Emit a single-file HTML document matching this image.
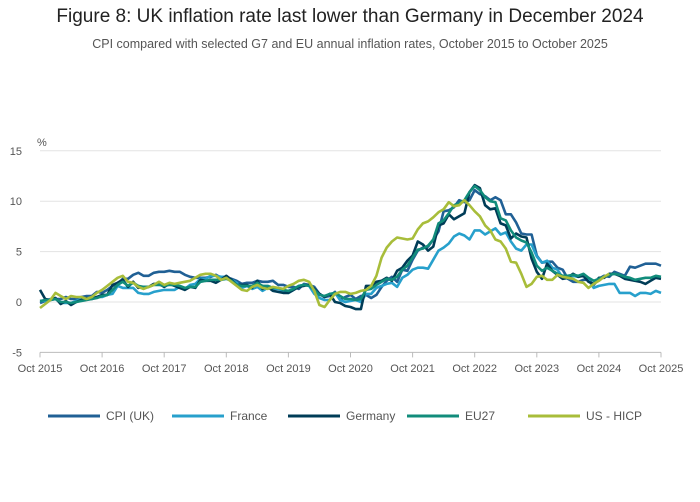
<!DOCTYPE html>
<html><head><meta charset="utf-8">
<style>
body{margin:0;background:#fff;font-family:"Liberation Sans",sans-serif;}
#wrap{position:relative;width:700px;height:502px;overflow:hidden;}
h1{position:absolute;top:6px;left:0;width:700px;text-align:center;margin:0;font-weight:normal;font-size:19px;color:#222;}
h2{position:absolute;top:37px;left:0;width:700px;text-align:center;margin:0;font-weight:normal;font-size:12.5px;color:#555;}
</style></head><body>
<div id="wrap">
<h1>Figure 8: UK inflation rate last lower than Germany in December 2024</h1>
<h2>CPI compared with selected G7 and EU annual inflation rates, October 2015 to October 2025</h2>
<svg id="chart" width="700" height="502" style="position:absolute;left:0;top:0"></svg>
</div>
<script>
const xTickLabels=["Oct 2015","Oct 2016","Oct 2017","Oct 2018","Oct 2019","Oct 2020","Oct 2021","Oct 2022","Oct 2023","Oct 2024","Oct 2025"];
const yTicks=[-5,0,5,10,15];
const seriesNames=["CPI (UK)","France","Germany","EU27","US - HICP"];
const ukValues=[-0.1,0.1,0.2,0.3,0.3,0.5,0.3,0.3,0.5,0.6,0.6,1.0,0.9,1.2,1.6,1.8,2.3,2.3,2.7,2.9,2.6,2.6,2.9,3.0,3.0,3.1,3.0,3.0,2.7,2.5,2.4,2.4,2.4,2.5,2.7,2.4,2.4,2.3,2.1,1.8,1.9,1.9,2.1,2.0,2.0,2.1,1.7,1.7,1.5,1.5,1.3,1.8,1.7,1.5,0.8,0.5,0.6,1.0,0.2,0.5,0.7,0.3,0.6,0.7,0.4,0.7,1.5,2.1,2.5,2.0,3.2,3.1,4.2,5.1,5.4,5.5,6.2,7.0,9.0,9.1,9.4,10.1,9.9,10.1,11.1,10.7,10.5,10.1,10.4,10.1,8.7,8.7,7.9,6.8,6.7,6.7,4.6,3.9,4.0,4.0,3.4,3.2,2.3,2.0,2.0,2.2,2.2,1.7,2.3,2.6,2.5,3.0,2.8,2.6,3.5,3.4,3.6,3.8,3.8,3.8,3.6];
const franceValues=[0.1,0.1,0.3,0.3,-0.1,-0.1,-0.1,0.1,0.3,0.4,0.4,0.5,0.5,0.7,0.8,1.6,1.4,1.4,1.4,0.9,0.8,0.8,1.0,1.1,1.2,1.2,1.2,1.5,1.3,1.7,1.8,2.3,2.3,2.6,2.6,2.5,2.5,2.2,1.9,1.4,1.6,1.3,1.5,1.1,1.4,1.3,1.3,1.1,0.9,1.2,1.6,1.7,1.6,0.8,0.4,0.2,0.2,0.9,0.2,0.0,0.1,0.2,0.0,0.8,0.8,1.4,1.6,1.8,1.9,1.5,2.4,2.7,3.2,3.4,3.4,3.3,4.2,5.1,5.4,5.8,6.5,6.8,6.6,6.2,7.1,7.1,6.7,7.0,7.3,6.7,6.9,6.0,5.3,5.1,5.7,5.7,4.5,3.9,4.1,3.4,3.2,2.4,2.4,2.6,2.5,2.7,2.2,1.4,1.6,1.7,1.8,1.8,0.9,0.9,0.9,0.6,0.9,0.9,0.8,1.1,0.9];
const germanyValues=[1.2,0.3,0.2,0.4,-0.2,0.1,-0.3,0.0,0.2,0.4,0.3,0.5,0.7,0.7,1.7,1.9,2.2,1.5,2.0,1.4,1.5,1.5,1.8,1.8,1.5,1.8,1.6,1.4,1.2,1.5,1.4,2.2,2.1,2.1,1.9,2.2,2.6,2.2,1.7,1.7,1.7,1.4,2.1,1.3,1.5,1.1,1.0,0.9,0.9,1.2,1.5,1.6,1.7,1.3,0.8,0.5,0.8,0.0,-0.1,-0.4,-0.5,-0.7,-0.7,1.6,1.6,2.0,2.1,2.4,2.1,3.1,3.4,4.1,4.6,6.0,5.7,5.1,5.5,7.6,7.8,8.7,8.2,8.5,8.8,10.9,11.6,11.3,9.6,9.2,9.3,7.8,7.6,6.3,6.8,6.5,6.4,4.3,3.0,2.3,3.8,3.1,2.7,2.3,2.4,2.8,2.5,2.6,2.0,1.8,2.4,2.4,2.8,2.8,2.6,2.3,2.2,2.1,2.0,1.8,2.1,2.4,2.3];
const eu27Values=[0.1,0.2,0.2,0.3,0.0,0.0,-0.1,0.0,0.1,0.2,0.3,0.4,0.6,0.7,1.2,1.7,2.0,1.6,1.9,1.6,1.5,1.5,1.7,1.7,1.6,1.7,1.7,1.6,1.4,1.5,1.5,2.0,2.1,2.2,2.2,2.2,2.3,2.1,1.7,1.6,1.6,1.6,1.9,1.6,1.6,1.4,1.4,1.2,1.1,1.3,1.6,1.7,1.6,1.2,0.7,0.6,0.8,0.9,0.6,0.3,0.3,0.2,0.3,1.2,1.3,1.7,2.0,2.3,2.2,2.5,3.2,3.6,4.4,5.2,5.3,5.6,6.2,7.8,8.1,8.8,9.6,9.8,10.1,10.9,11.5,11.1,10.4,10.0,9.9,8.3,8.1,7.1,6.4,6.1,5.9,4.9,3.6,3.1,3.4,3.1,2.8,2.6,2.6,2.7,2.6,2.8,2.4,2.1,2.3,2.5,2.7,2.8,2.7,2.5,2.4,2.2,2.3,2.4,2.4,2.6,2.5];
const usValues=[-0.6,-0.2,0.2,0.9,0.6,0.3,0.6,0.5,0.5,0.3,0.5,0.9,1.2,1.6,2.0,2.4,2.6,2.0,1.9,1.5,1.3,1.5,1.7,2.0,1.7,1.9,1.8,1.9,2.0,2.1,2.4,2.7,2.8,2.8,2.6,2.2,2.4,2.0,1.6,1.2,1.1,1.5,1.7,1.4,1.3,1.5,1.4,1.3,1.6,1.8,2.1,2.2,2.0,1.1,-0.3,-0.5,0.2,0.8,1.0,1.0,0.8,0.9,1.1,1.2,1.6,2.6,4.4,5.4,6.0,6.4,6.3,6.2,6.3,7.2,7.8,8.0,8.4,8.9,9.2,9.9,9.5,9.6,10.1,9.6,9.0,8.5,7.6,7.1,6.2,6.0,5.3,4.0,3.9,2.8,1.5,1.8,2.5,2.6,2.2,2.2,2.7,2.5,2.4,2.3,2.0,1.9,1.4,1.8,2.1,2.5,2.8];
const seriesColors=["#206095","#27a0cc","#003c57","#118c7b","#a8bd3a"];
const allSeries=[ukValues,franceValues,germanyValues,eu27Values,usValues];

const NS="http://www.w3.org/2000/svg";
const svg=document.getElementById('chart');
const X0=40,X1=661,Y0=302,PX=10.08;
const nMonths=120;
function xs(i){return X0+(X1-X0)*i/nMonths;}
function ys(v){return Y0-v*PX;}
function mk(t,a){const e=document.createElementNS(NS,t);for(const k in a)e.setAttribute(k,a[k]);svg.appendChild(e);return e;}

yTicks.forEach(v=>{
  const l=mk('line',{x1:X0,x2:X1,y1:ys(v),y2:ys(v),stroke:v===-5?'#bbb':'#e3e3e3','stroke-width':1});
  
  
  const t=mk('text',{x:22,y:ys(v)+4,'text-anchor':'end','font-size':11,fill:'#555'});
  t.textContent=v;
  
  
});
const pct=mk('text',{x:37,y:146,'font-size':11,fill:'#555'});pct.textContent='%';



xTickLabels.forEach((lab,k)=>{
  const x=xs(k*12);
  const tk=mk('line',{x1:x,x2:x,y1:ys(-5),y2:ys(-5)+5,stroke:'#bbb'});
  
  
  const t=mk('text',{x:x,y:372,'text-anchor':'middle','font-size':11,fill:'#555'});
  t.textContent=lab;
  
  
});

allSeries.forEach((vals,s)=>{
  const d=vals.map((v,i)=>(i?'L':'M')+xs(i).toFixed(1)+','+ys(v).toFixed(1)).join('');
  const p=mk('path',{d:d,fill:'none',stroke:seriesColors[s],'stroke-width':2.6,'stroke-linejoin':'round'});
  
  
});

const legX=[48,172,288,407,528];
seriesNames.forEach((n,s)=>{
  const g=mk('g',{});
  
  
  const l=document.createElementNS(NS,'line');
  [['x1',legX[s]],['x2',legX[s]+52],['y1',416],['y2',416],['stroke',seriesColors[s]],['stroke-width',3]].forEach(a=>l.setAttribute(a[0],a[1]));
  g.appendChild(l);
  const t=document.createElementNS(NS,'text');
  t.setAttribute('x',legX[s]+58);t.setAttribute('y',420);t.setAttribute('font-size',12);t.setAttribute('fill','#555');
  t.textContent=n;
  g.appendChild(t);
});
</script>
</body></html>
